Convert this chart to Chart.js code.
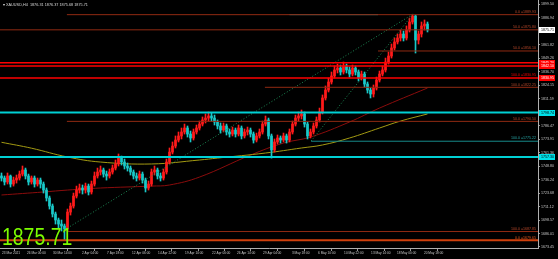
<!DOCTYPE html>
<html>
<head>
<meta charset="utf-8">
<script src="https://cdn.jsdelivr.net/npm/chart.js@4.4.0/dist/chart.umd.min.js"></script>
<style>
  html, body { margin: 0; padding: 0; background: #000; }
  canvas { display: block; }
</style>
</head>
<body>
<canvas id="chart" width="558" height="259"></canvas>
<script>
// XAUUSD candles (one entry per drawn candle)
const opens = [1739.6,1737.7,1734.0,1739.6,1732.1,1735.8,1737.7,1741.4,1745.2,1739.6,
  1734.0,1737.7,1732.1,1735.8,1732.1,1726.5,1719.1,1711.6,1704.2,1698.6,
  1694.8,1693.0,1690.2,1706.0,1711.6,1720.9,1726.5,1728.4,1726.5,1730.2,
  1724.7,1732.1,1739.6,1743.3,1745.2,1741.4,1739.6,1743.3,1747.0,1750.8,
  1756.3,1752.6,1748.9,1747.0,1743.3,1739.6,1737.7,1741.4,1735.8,1728.4,
  1732.1,1743.3,1745.2,1739.6,1737.7,1743.3,1752.6,1761.9,1767.5,1773.1,
  1776.9,1780.6,1784.3,1778.7,1775.0,1780.6,1784.3,1788.0,1791.8,1793.6,
  1795.5,1793.6,1789.9,1786.2,1782.4,1786.2,1780.6,1778.7,1782.4,1778.7,
  1784.3,1776.9,1780.6,1782.4,1778.7,1773.1,1776.9,1780.6,1788.0,1791.8,
  1776.9,1763.8,1771.3,1775.0,1773.1,1776.9,1773.1,1780.6,1788.0,1793.6,
  1795.5,1797.4,1788.0,1776.9,1780.6,1786.2,1791.8,1799.2,1812.3,1819.7,
  1827.2,1832.8,1838.4,1840.2,1836.5,1842.1,1838.4,1834.6,1840.2,1836.5,
  1830.9,1834.6,1825.3,1819.7,1816.0,1821.6,1829.0,1834.6,1838.4,1845.8,
  1851.4,1858.9,1864.5,1868.2,1871.9,1868.2,1875.6,1883.1,1888.7,1866.3,
  1871.9,1879.4,1881.2];
const highs = [1742.4,1739.6,1742.4,1740.5,1738.6,1740.5,1744.2,1748.9,1747.0,1741.4,
  1739.6,1739.6,1737.7,1737.7,1734.0,1728.4,1720.9,1713.5,1706.0,1700.4,
  1698.6,1694.8,1708.8,1714.4,1723.7,1730.2,1732.1,1731.2,1733.0,1732.1,
  1734.9,1743.3,1747.0,1748.9,1747.0,1744.2,1746.1,1749.8,1754.5,1760.1,
  1758.2,1755.4,1751.7,1748.9,1745.2,1742.4,1744.2,1743.3,1737.7,1734.9,
  1746.1,1748.9,1747.0,1742.4,1746.1,1755.4,1765.7,1771.3,1776.9,1780.6,
  1784.3,1788.0,1786.2,1781.5,1783.4,1787.1,1790.8,1794.6,1797.4,1799.2,
  1798.3,1796.4,1791.8,1789.0,1789.0,1788.0,1783.4,1785.2,1784.3,1787.1,
  1786.2,1783.4,1785.2,1784.3,1780.6,1779.6,1783.4,1790.8,1795.5,1793.6,
  1778.7,1774.1,1777.8,1776.9,1779.6,1778.7,1783.4,1790.8,1796.4,1799.2,
  1801.1,1799.2,1789.9,1783.4,1789.0,1794.6,1802.9,1815.1,1823.5,1830.9,
  1836.5,1842.1,1843.9,1843.0,1845.8,1843.9,1841.2,1843.0,1842.1,1838.4,
  1837.4,1836.5,1827.2,1821.6,1824.4,1831.8,1837.4,1842.1,1849.5,1855.1,
  1862.6,1868.2,1871.9,1875.6,1874.7,1879.4,1886.8,1889.9,1889.6,1874.7,
  1883.1,1885.0,1883.1];
const lows = [1734.9,1731.2,1732.1,1729.3,1730.2,1733.0,1735.8,1739.6,1736.8,1731.2,
  1732.1,1729.3,1730.2,1728.4,1723.7,1716.3,1708.8,1701.4,1694.8,1691.1,
  1688.3,1679.7,1688.3,1703.2,1709.7,1719.1,1723.7,1722.8,1723.7,1721.9,
  1722.8,1730.2,1737.7,1740.5,1738.6,1735.8,1737.7,1741.4,1745.2,1748.9,
  1749.8,1746.1,1744.2,1740.5,1736.8,1734.9,1735.8,1733.0,1724.7,1726.5,
  1730.2,1740.5,1736.8,1734.9,1735.8,1741.4,1750.8,1760.1,1765.7,1771.3,
  1774.1,1778.7,1775.9,1771.3,1773.1,1778.7,1782.4,1786.2,1789.0,1790.8,
  1790.8,1787.1,1783.4,1779.6,1780.6,1777.8,1775.9,1776.9,1775.9,1776.9,
  1774.1,1775.0,1777.8,1775.9,1770.3,1771.3,1775.0,1778.7,1786.2,1774.1,
  1756.3,1761.9,1769.4,1770.3,1771.3,1770.3,1771.3,1778.7,1786.2,1790.8,
  1792.7,1785.2,1774.1,1775.0,1778.7,1784.3,1789.9,1797.4,1810.4,1817.9,
  1825.3,1830.9,1835.6,1833.7,1834.6,1835.6,1831.8,1832.8,1833.7,1828.1,
  1829.0,1822.5,1816.9,1812.3,1813.2,1819.7,1827.2,1832.8,1836.5,1843.9,
  1849.5,1857.0,1862.6,1865.4,1865.4,1866.3,1873.8,1881.2,1854.2,1862.6,
  1869.1,1875.6,1873.8];
const closes = [1737.7,1734.0,1739.6,1732.1,1735.8,1737.7,1741.4,1745.2,1739.6,1734.0,
  1737.7,1732.1,1735.8,1732.1,1726.5,1719.1,1711.6,1704.2,1698.6,1694.8,
  1693.0,1690.2,1706.0,1711.6,1720.9,1726.5,1728.4,1726.5,1730.2,1724.7,
  1732.1,1739.6,1743.3,1745.2,1741.4,1739.6,1743.3,1747.0,1750.8,1756.3,
  1752.6,1748.9,1747.0,1743.3,1739.6,1737.7,1741.4,1735.8,1728.4,1732.1,
  1743.3,1745.2,1739.6,1737.7,1743.3,1752.6,1761.9,1767.5,1773.1,1776.9,
  1780.6,1784.3,1778.7,1775.0,1780.6,1784.3,1788.0,1791.8,1793.6,1795.5,
  1793.6,1789.9,1786.2,1782.4,1786.2,1780.6,1778.7,1782.4,1778.7,1784.3,
  1776.9,1780.6,1782.4,1778.7,1773.1,1776.9,1780.6,1788.0,1791.8,1776.9,
  1763.8,1771.3,1775.0,1773.1,1776.9,1773.1,1780.6,1788.0,1793.6,1795.5,
  1797.4,1788.0,1776.9,1780.6,1786.2,1791.8,1799.2,1812.3,1819.7,1827.2,
  1832.8,1838.4,1840.2,1836.5,1842.1,1838.4,1834.6,1840.2,1836.5,1830.9,
  1834.6,1825.3,1819.7,1816.0,1821.6,1829.0,1834.6,1838.4,1845.8,1851.4,
  1858.9,1864.5,1868.2,1871.9,1868.2,1875.6,1883.1,1888.7,1866.3,1871.9,
  1879.4,1881.2,1875.71];

// moving averages (bar index, price)
const maYellowIdx = [0, 10, 22, 33, 50, 66, 72, 88, 100, 107, 116, 126, 133, 142];
const maYellow = [1771.0,1765.5,1757.3,1752.6,1750.8,1754.5,1756.3,1761.0,1765.7,1768.5,1775.0,1784.3,1790.8,1797.4];
const maRedIdx = [0, 14, 22, 33, 50, 56, 66, 83, 94, 103, 116, 126, 142];
const maRed = [1721.9,1724.7,1726.5,1728.4,1730.2,1731.2,1738.6,1759.1,1770.3,1775.9,1789.9,1802.9,1821.6];

// horizontal levels: price, first bar, label
const levelPrices = [1889.93, 1875.80, 1856.10, 1845.20, 1842.10, 1830.95, 1822.25, 1798.74, 1790.50, 1772.00, 1757.30, 1687.85, 1679.65];
const levelStart  = [21.8, -0.5, 125.5, -0.5, -0.5, -0.5, 87.8, -0.5, 21.8, 103.2, -0.5, 21.8, -0.5];
const levelLabels = ["0.0 =1889.93", "50.0 =1875.80", "50.0 =1856.10", "", "", "100.0 =1830.95", "100.0 =1822.25", "", "50.0 =1790.50", "100.0 =1775.22", "", "100.0 =1687.85", "0.0 =1679.65"];
const levelKind   = ["fib", "fib", "fib", "red", "red", "red", "fib", "cyan", "fib", "teal", "cyan", "fib", "orange"];

// dotted fan lines: [start bar, start price, end bar, end price]
const fanLines = [[22, 1691.1, 137.2, 1890.6], [103.2, 1772.2, 137.2, 1890.6]];
const tealTop = [96, 125.5, 1889.93];

// axes
const dateTicks = [0.2, 8.5, 17.2, 26.8, 35.2, 43.5, 52.2, 61.2, 70.2, 78.5, 87.2, 96.8, 105.5, 114.2, 123.2, 131.8, 140.8];
const dateLabels = ["23 Mar 2021", "26 Mar 00:00", "30 Mar 14:00", "2 Apr 04:00", "7 Apr 18:00", "12 Apr 06:00",
  "14 Apr 22:00", "19 Apr 10:00", "22 Apr 00:00", "26 Apr 14:00", "29 Apr 04:00", "3 May 18:00",
  "6 May 10:00", "10 May 22:00", "13 May 14:00", "18 May 00:00", "20 May 18:00"];
const priceTicks = [1673.45, 1686.01, 1698.57, 1711.12, 1723.68, 1736.24, 1748.80, 1761.36, 1773.91, 1786.47,
  1799.03, 1811.59, 1824.15, 1836.70, 1849.26, 1861.82, 1874.38, 1886.94, 1899.50];
const lastPrice = 1875.71;
const header = "\u25BE XAUUSD,H4  1876.31 1876.37 1875.68 1875.71";

const BULL = '#ff1a1a';
const BEAR = '#19c8c8';
const kindColor = { fib: '#902a12', red: '#ff0000', cyan: '#00d0d4', teal: '#178a8a', orange: '#d0400c' };
const kindText = { fib: '#b8482a', red: '#ff0000', cyan: '#00d0d4', teal: '#27a8a8', orange: '#e8581c' };
const kindWidth = { fib: 1, red: 1.5, cyan: 2, teal: 1, orange: 2 };

const X_MAX = 178.83;
const font = '"Liberation Sans", Arial, sans-serif';

const candleColors = closes.map((c, i) => c >= opens[i] ? BULL : BEAR);

const datasets = [];

levelPrices.forEach((p, k) => {
  datasets.push({
    type: 'line', order: 1,
    data: [{ x: levelStart[k], y: p }, { x: X_MAX, y: p }],
    borderColor: kindColor[levelKind[k]], borderWidth: kindWidth[levelKind[k]],
    pointRadius: 0, fill: false
  });
});
datasets.push({
  type: 'line', order: 1,
  data: [{ x: tealTop[0], y: tealTop[2] }, { x: tealTop[1], y: tealTop[2] }],
  borderColor: kindColor.teal, borderWidth: 1, pointRadius: 0
});
fanLines.forEach(f => {
  datasets.push({
    type: 'line', order: 2,
    data: [{ x: f[0], y: f[1] }, { x: f[2], y: f[3] }],
    borderColor: '#1d8a55', borderWidth: 1, borderDash: [1, 2], pointRadius: 0
  });
});
datasets.push({
  type: 'bar', order: 3, grouped: false, barThickness: 2,
  data: opens.map((o, i) => ({ x: i, y: [o, closes[i]] })),
  backgroundColor: candleColors
});
datasets.push({
  type: 'bar', order: 4, grouped: false, barThickness: 1,
  data: lows.map((l, i) => ({ x: i, y: [l, highs[i]] })),
  backgroundColor: candleColors
});
datasets.push({
  type: 'line', order: 5,
  data: maYellowIdx.map((x, i) => ({ x, y: maYellow[i] })),
  borderColor: '#a39a12', borderWidth: 1, pointRadius: 0, tension: 0.4
});
datasets.push({
  type: 'line', order: 5,
  data: maRedIdx.map((x, i) => ({ x, y: maRed[i] })),
  borderColor: '#8a0c0c', borderWidth: 1, pointRadius: 0, tension: 0.4
});

const overlay = {
  id: 'overlay',
  afterDraw(chart) {
    const { ctx, chartArea, scales: { y } } = chart;
    ctx.save();
    // level captions
    ctx.font = '3.6px ' + font;
    ctx.textAlign = 'right';
    ctx.textBaseline = 'bottom';
    levelPrices.forEach((p, k) => {
      if (!levelLabels[k]) return;
      ctx.fillStyle = kindText[levelKind[k]];
      ctx.fillText(levelLabels[k], chartArea.right - 2, y.getPixelForValue(p) - 1);
    });
    // price boxes on the right axis
    const boxes = [[lastPrice, '#ffffff', '#000000']];
    levelPrices.forEach((p, k) => {
      const kind = levelKind[k];
      if (kind === 'red') boxes.push([p, '#ff0000', '#ffffff']);
      if (kind === 'cyan') boxes.push([p, '#00e0e8', '#000000']);
    });
    ctx.textAlign = 'left';
    ctx.textBaseline = 'middle';
    boxes.forEach(b => {
      const py = Math.round(y.getPixelForValue(b[0]));
      ctx.fillStyle = b[1];
      ctx.fillRect(chartArea.right + 1, py - 3, 16, 6);
      ctx.fillStyle = b[2];
      ctx.fillText(b[0].toFixed(2), chartArea.right + 3, py + 0.3);
    });
    // big last price
    ctx.save();
    ctx.translate(2, 245);
    ctx.scale(0.81, 1);
    ctx.font = '24px ' + font;
    ctx.fillStyle = '#7cfc00';
    ctx.textAlign = 'left';
    ctx.textBaseline = 'alphabetic';
    ctx.fillText(lastPrice.toFixed(2), 0, 0);
    ctx.restore();
    // header
    ctx.font = '3.8px ' + font;
    ctx.fillStyle = '#d8d8d8';
    ctx.textAlign = 'left';
    ctx.textBaseline = 'middle';
    ctx.fillText(header, 3, 5);
    ctx.restore();
  }
};

const bg = {
  id: 'bg',
  beforeDraw(chart) {
    const { ctx } = chart;
    ctx.save();
    ctx.fillStyle = '#000';
    ctx.fillRect(0, 0, chart.width, chart.height);
    ctx.restore();
  }
};

new Chart(document.getElementById('chart'), {
  type: 'bar',
  data: { datasets },
  options: {
    responsive: false,
    animation: false,
    layout: { padding: 0 },
    plugins: { legend: { display: false }, tooltip: { enabled: false } },
    scales: {
      x: {
        type: 'linear', min: -0.5, max: X_MAX, offset: false,
        grid: { display: true, drawOnChartArea: false, drawTicks: true, tickLength: 3, color: '#9a9a9a' },
        border: { display: true, color: '#b0b0b0' },
        ticks: {
          autoSkip: false, maxRotation: 0, align: 'start', padding: 0,
          color: '#c8c8c8', font: { size: 3.2, family: font },
          callback: (v) => { const k = dateTicks.indexOf(v); return k >= 0 ? dateLabels[k] : ''; }
        },
        afterBuildTicks: (s) => { s.ticks = dateTicks.map(v => ({ value: v })); },
        afterFit: (s) => { s.height = 11; s.paddingLeft = 0; s.paddingRight = 0; }
      },
      y: {
        position: 'right',
        min: 1672.5, max: 1903.6,
        grid: { display: true, drawOnChartArea: false, drawTicks: true, tickLength: 2, color: '#9a9a9a' },
        border: { display: true, color: '#b0b0b0' },
        ticks: {
          padding: 1, color: '#c8c8c8', font: { size: 3.6, family: font },
          callback: (v) => v.toFixed(2)
        },
        afterBuildTicks: (s) => { s.ticks = priceTicks.map(v => ({ value: v })); },
        afterFit: (s) => { s.width = 20; s.paddingTop = 0; s.paddingBottom = 0; }
      }
    }
  },
  plugins: [bg, overlay]
});
</script>
</body>
</html>
